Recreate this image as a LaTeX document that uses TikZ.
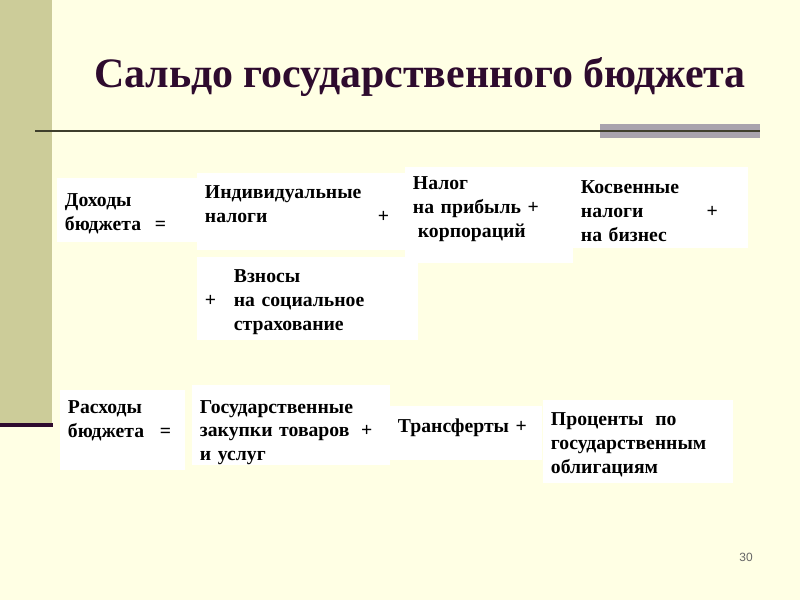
\documentclass[tikz,border=0pt]{standalone}
\usepackage{fontspec}
\setmainfont{Liberation Serif}
\setsansfont{Liberation Sans}
\usepackage{tikz}
\usetikzlibrary{positioning}
\definecolor{slidebg}{HTML}{FFFFE4}
\definecolor{sideband}{HTML}{CCCC99}
\definecolor{plum}{HTML}{2E0B2E}
\definecolor{ruledark}{HTML}{3F3F2C}
\definecolor{rulebar}{HTML}{A9A3AD}

\begin{document}
\begin{tikzpicture}[
    x=0.025cm, y=-0.025cm,
    termbox/.style={fill=white, align=left, inner xsep=0.2cm, inner ysep=0pt,
        font=\fontsize{14}{17}\selectfont\bfseries,
        execute at begin node={\rule{0pt}{14pt}}},
    title/.style={font=\fontsize{29.8}{35}\selectfont\bfseries, text=plum},
    pagenum/.style={font=\fontsize{8.5}{10}\selectfont\sffamily, text=black!60}
]
\useasboundingbox (0,0) rectangle (800,600);

% --- Slide background and decoration ---
\fill[slidebg] (0,0) rectangle (800,600);
\fill[sideband] (0,0) rectangle (52,425);
\draw[plum, line width=2.6pt] (0,425) -- (53,425);
\fill[rulebar] (600,124) rectangle (760,138);
\draw[ruledark, line width=2pt] (35,131) -- (760,131);

% --- Title ---
\node[title] (head) at (420,77) {Сальдо государственного бюджета};

% --- Revenue side ---
\node[termbox, minimum width=3.5cm, minimum height=1.6cm, text width=3.1cm]
    (income) at (127,210) {Доходы\\бюджета\hspace{0.7em}=};
\node[termbox, minimum width=5.25cm, minimum height=1.925cm, text width=4.85cm]
    (indiv) at (302,211.5) {Индивидуальные\\налоги\hspace{5.6em}+\rule[-16pt]{0pt}{16pt}};
\node[termbox, minimum width=4.2cm, minimum height=2.4cm, text width=3.8cm]
    (profit) at (489,215) {Налог\\на прибыль +\\\hspace*{0.25em}корпораций\rule[-16pt]{0pt}{16pt}};
\node[termbox, minimum width=4.375cm, minimum height=2.025cm, text width=3.975cm]
    (indirect) at (660.5,207.5) {Косвенные\\налоги\hspace{3.2em}+\\на бизнес};
\node[termbox, minimum width=5.525cm, minimum height=2.075cm, text width=5.125cm]
    (social) at (307.5,298.5) {\phantom{+}\hspace{0.9em}Взносы\\+\hspace{0.9em}на социальное\\\phantom{+}\hspace{0.9em}страхование};

% --- Expenditure side ---
\node[termbox, minimum width=3.125cm, minimum height=2cm, text width=2.725cm]
    (spend) at (122.5,430) {Расходы\\бюджета\hspace{0.8em}=\rule[-21pt]{0pt}{21pt}};
\node[termbox, minimum width=4.95cm, minimum height=1.9cm, text width=4.55cm]
    (purchase) at (291,425) {\rule{0pt}{20pt}Государственные\\закупки товаров\hspace{0.6em}+\\и услуг};
\node[termbox, minimum width=3.8cm, minimum height=1.35cm, text width=3.4cm]
    (transfer) at (466,433) {Трансферты +\rule[-15pt]{0pt}{15pt}};
\node[termbox, minimum width=4.75cm, minimum height=2.075cm, text width=4.35cm]
    (interest) at (638,441.5) {Проценты\hspace{0.6em}по\\государственным\\облигациям};

% --- Slide number ---
\node[pagenum] (page) at (746,557) {30};

\end{tikzpicture}
\end{document}
